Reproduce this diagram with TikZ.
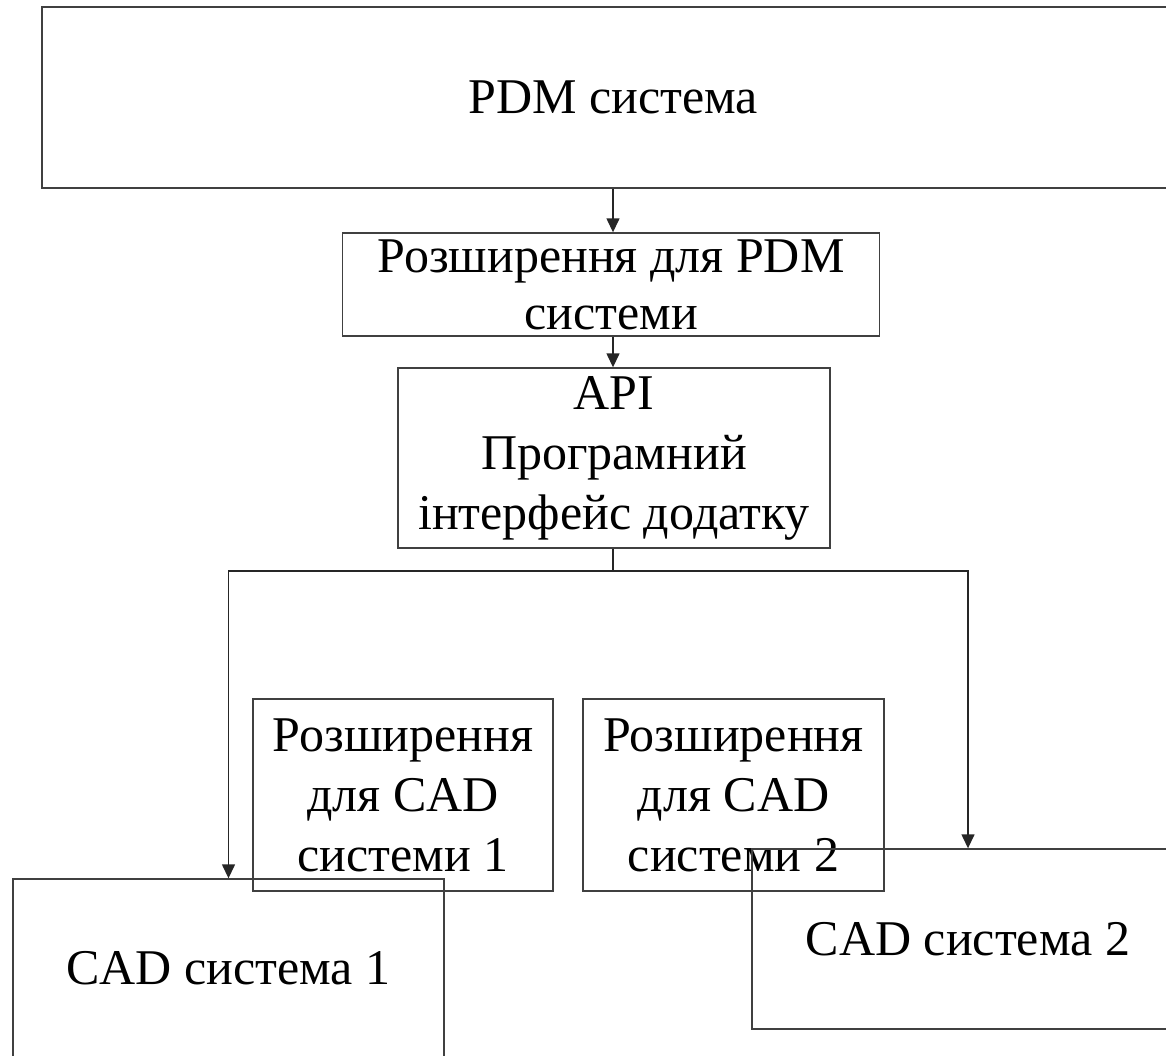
\documentclass[tikz,border=0pt]{standalone}
\usepackage{fontspec}
\setmainfont{Liberation Serif}
\usetikzlibrary{arrows.meta}
\begin{document}
\begin{tikzpicture}[x=1pt,y=-1pt,
  boxnode/.style={draw=black!75, line width=1.4pt, inner sep=0pt, align=center,
    font=\fontsize{50}{60}\selectfont},
  arr/.style={draw=black!85, line width=1.4pt, -{Triangle[length=14pt,width=13pt]}},
  plainline/.style={draw=black!85, line width=1.4pt}]
\useasboundingbox (0,0) rectangle (1166,1055);
\node[boxnode, minimum width=1142pt, minimum height=181pt] (pdm) at (613,97.5) {PDM система};
\node[boxnode, minimum width=537pt, minimum height=103pt] (extpdm) at (611,284.5) {Розширення для PDM\\[-3pt]системи};
\node[boxnode, minimum width=432pt, minimum height=180pt] (api) at (614,458) {API\\Програмний\\інтерфейс додатку};
\node[boxnode, minimum width=300pt, minimum height=192pt] (extcad1) at (403,795) {Розширення\\для CAD\\системи 1};
\node[boxnode, minimum width=301pt, minimum height=192pt] (extcad2) at (733.5,795) {Розширення\\для CAD\\системи 2};
\node[boxnode, minimum width=431pt, minimum height=178pt] (cad1) at (228.5,968) {CAD система 1};
\node[boxnode, minimum width=432pt, minimum height=180pt] (cad2) at (968,939) {CAD система 2};
\coordinate (split) at (613,571);
\draw[arr] (pdm.south) -- (pdm.south |- extpdm.north);
\draw[arr] (pdm.south |- extpdm.south) -- (pdm.south |- api.north);
\draw[plainline] (api.south -| split) -- (split);
\draw[arr] (split) -| (cad1.north);
\draw[arr] (split) -| (cad2.north);
\end{tikzpicture}
\end{document}
